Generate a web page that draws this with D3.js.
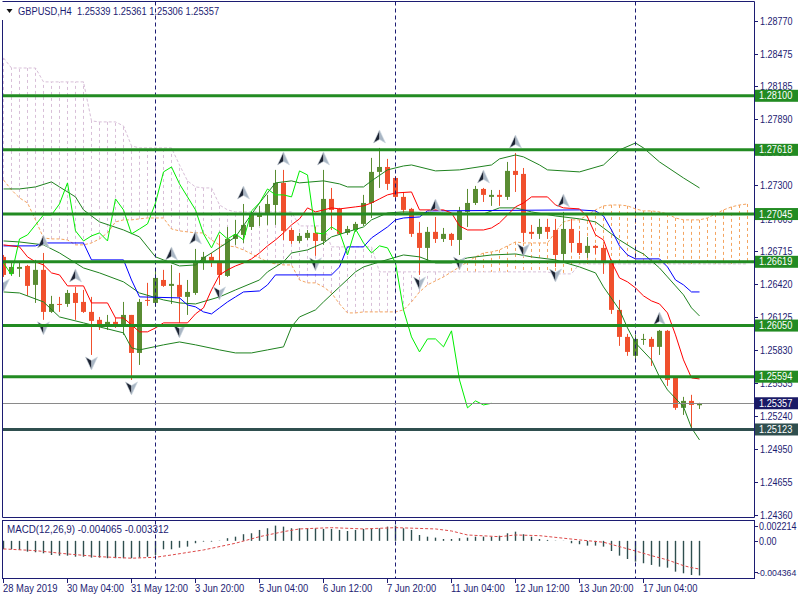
<!DOCTYPE html>
<html><head><meta charset="utf-8">
<script src="https://cdn.jsdelivr.net/npm/d3@7"></script>
<style>body{margin:0;background:#fff}svg{display:block}text{font-family:"Liberation Sans",Arial,sans-serif}</style>
</head><body><svg id="c" width="800" height="600"></svg>
<script>
const symbolInfo = "GBPUSD,H4  1.25339 1.25361 1.25306 1.25357";
const macdInfo = "MACD(12,26,9) -0.004065 -0.003312";
const timeLabels = ["28 May 2019","30 May 04:00","31 May 12:00","3 Jun 20:00","5 Jun 04:00","6 Jun 12:00","7 Jun 20:00","11 Jun 04:00","12 Jun 12:00","13 Jun 20:00","17 Jun 04:00"];
const timeLabelBars = [0,8,16,24,32,40,48,56,64,72,80];
const separatorBars = [19,49,79];
const priceTicks = [1.28770,1.28475,1.28185,1.27890,1.27595,1.27300,1.27005,1.26715,1.26420,1.26125,1.25830,1.25535,1.25240,1.24950,1.24655,1.24360];
const levels = [1.28100,1.27618,1.27045,1.26619,1.26050,1.25594];
const supportLevel = 1.25123;
const bidPrice = 1.25357;
const macdTicks = [0.002214,0.00,-0.004364];
const macdTickLabels = ["0.002214","0.00","-0.004364"];

const opens = [1.26663,1.26511,1.26556,1.26582,1.26413,1.26547,1.26172,1.26243,1.26243,1.26341,
1.26261,1.26172,1.26101,1.26038,1.26083,1.26038,1.26145,1.25806,1.26279,1.26252,
1.26457,1.26404,1.26413,1.26306,1.26341,1.26609,1.26663,1.26609,1.26493,1.26823,
1.26859,1.26930,1.27019,1.27037,1.27126,1.27323,1.26903,1.26805,1.26832,1.26877,
1.26805,1.27180,1.27091,1.26877,1.26903,1.26957,1.27144,1.27421,1.27465,1.27367,
1.27198,1.27091,1.26877,1.26743,1.26886,1.26823,1.26868,1.26814,1.27064,1.27144,
1.27269,1.27198,1.27216,1.27198,1.27430,1.27403,1.26886,1.26868,1.26930,1.26903,
1.26689,1.26912,1.26787,1.26698,1.26761,1.26743,1.26609,1.26190,1.25949,1.25780,
1.25922,1.25931,1.25860,1.26003,1.25583,1.25316,1.25378,1.25339];
const highs = [1.26680,1.26618,1.26609,1.26591,1.26636,1.26698,1.26315,1.26306,1.26368,1.26395,
1.26368,1.26306,1.26127,1.26145,1.26118,1.26261,1.26145,1.26288,1.26431,1.26547,
1.26547,1.26591,1.26520,1.26457,1.26734,1.26707,1.26698,1.26859,1.26930,1.26993,
1.27135,1.27064,1.27118,1.27216,1.27439,1.27439,1.26921,1.26877,1.26903,1.26930,
1.27439,1.27278,1.27100,1.26939,1.26975,1.27216,1.27546,1.27635,1.27537,1.27385,
1.27242,1.27100,1.26975,1.26930,1.27019,1.26921,1.26877,1.27109,1.27269,1.27296,
1.27278,1.27260,1.27260,1.27510,1.27590,1.27456,1.26948,1.27002,1.27002,1.27002,
1.27064,1.27002,1.26895,1.26841,1.26770,1.26770,1.26618,1.26279,1.25976,1.25967,
1.25976,1.25949,1.26011,1.26011,1.25583,1.25414,1.25432,1.25361];
const lows = [1.26484,1.26493,1.26484,1.26315,1.26252,1.26101,1.26163,1.26172,1.26217,1.26101,
1.26163,1.25788,1.26011,1.26011,1.26029,1.25967,1.25565,1.25699,1.26226,1.26217,
1.26395,1.26243,1.26074,1.26145,1.26324,1.26547,1.26573,1.26413,1.26484,1.26770,
1.26787,1.26903,1.26939,1.26948,1.26948,1.26814,1.26779,1.26787,1.26814,1.26672,
1.26770,1.26903,1.26859,1.26859,1.26886,1.26939,1.27010,1.27278,1.27260,1.27180,
1.27055,1.26841,1.26502,1.26627,1.26787,1.26796,1.26761,1.26680,1.26930,1.27126,
1.27153,1.27118,1.27118,1.27171,1.27242,1.26796,1.26823,1.26823,1.26823,1.26573,
1.26627,1.26707,1.26680,1.26654,1.26689,1.26511,1.26154,1.25869,1.25780,1.25744,
1.25878,1.25690,1.25788,1.25512,1.25298,1.25253,1.25120,1.25306];
const closes = [1.26502,1.26573,1.26573,1.26404,1.26547,1.26172,1.26243,1.26234,1.26341,1.26252,
1.26172,1.26092,1.26038,1.26083,1.26056,1.26145,1.25806,1.26261,1.26270,1.26475,
1.26404,1.26422,1.26306,1.26350,1.26609,1.26663,1.26609,1.26502,1.26823,1.26859,
1.26948,1.27037,1.27037,1.27135,1.27323,1.26895,1.26805,1.26850,1.26877,1.26805,
1.27180,1.27082,1.26868,1.26912,1.26957,1.27144,1.27421,1.27465,1.27314,1.27198,
1.27082,1.26868,1.26743,1.26886,1.26823,1.26868,1.26814,1.27073,1.27144,1.27269,
1.27216,1.27216,1.27198,1.27430,1.27394,1.26877,1.26868,1.26930,1.26886,1.26680,
1.26912,1.26787,1.26698,1.26761,1.26743,1.26609,1.26190,1.25949,1.25815,1.25931,
1.25931,1.25860,1.26003,1.25565,1.25316,1.25378,1.25342,1.25357];

// Ichimoku
const tenkanBars = [0,2,3,4,5,6,7,8,10,11,13,14,15,17,18,19,20,23,24,25,26,27,28,29,30,31,32,33,34,35,36,37,38,39,40,41,42,44,45,46,47,48,49,51,52,55,56,57,58,60,61,62,63,64,65,66,68,69,70,72,73,74,75,76,77,78,79,80,81,82,83,84,85,86,87];
const tenkan = [1.26770,1.26752,1.26663,1.26618,1.26591,1.26520,1.26502,1.26404,1.26404,1.26252,1.26252,1.26118,1.26118,1.25994,1.25994,1.26029,1.26074,1.26074,1.26154,1.26208,1.26368,1.26502,1.26547,1.26582,1.26609,1.26645,1.26698,1.26761,1.26814,1.26877,1.26948,1.27002,1.27100,1.27064,1.27082,1.27100,1.27091,1.27109,1.27118,1.27144,1.27180,1.27216,1.27233,1.27242,1.27082,1.27082,1.27055,1.26939,1.26903,1.26903,1.26921,1.26966,1.27037,1.27109,1.27144,1.27198,1.27198,1.27126,1.27100,1.27091,1.27019,1.26859,1.26814,1.26618,1.26475,1.26440,1.26386,1.26315,1.26270,1.26243,1.26163,1.25967,1.25744,1.25583,1.25574];
const kijunBars = [0,4,5,10,11,15,16,17,22,23,24,25,26,27,28,29,30,32,33,34,41,42,43,45,46,48,49,50,52,53,72,74,75,76,77,78,79,82,83,84,85,86,87];
const kijun = [1.26761,1.26761,1.26787,1.26787,1.26636,1.26636,1.26457,1.26306,1.26297,1.26234,1.26217,1.26172,1.26154,1.26208,1.26261,1.26306,1.26350,1.26359,1.26413,1.26502,1.26502,1.26573,1.26752,1.26752,1.26832,1.26930,1.26993,1.27010,1.27019,1.27073,1.27082,1.27073,1.27028,1.26903,1.26761,1.26680,1.26645,1.26645,1.26573,1.26457,1.26413,1.26350,1.26350];
const spanA = [1.27349,1.27260,1.27189,1.27144,1.26993,1.26832,1.26823,1.26823,1.26814,1.26770,
1.26770,1.26787,1.26823,1.26877,1.26975,1.26993,1.26993,1.27002,1.27010,1.27010,
1.27010,1.26912,1.26895,1.26886,1.26877,1.26877,1.26814,1.26770,1.26761,1.26752,
1.26725,1.26689,1.26654,1.26618,1.26600,1.26591,1.26591,1.26457,1.26431,1.26431,
1.26395,1.26341,1.26243,1.26163,1.26163,1.26172,1.26172,1.26172,1.26172,1.26172,
1.26190,1.26261,1.26350,1.26413,1.26449,1.26484,1.26529,1.26573,1.26618,1.26663,
1.26698,1.26707,1.26725,1.26761,1.26796,1.26787,1.26787,1.26787,1.26787,1.26886,
1.26975,1.26993,1.26993,1.27037,1.27082,1.27118,1.27126,1.27126,1.27118,1.27091,
1.27073,1.27073,1.27064,1.27046,1.27010,1.26993,1.26993,1.26993,1.27010,1.27046,
1.27082,1.27109,1.27126,1.27135];
const spanB = [1.28438,1.28348,1.28348,1.28348,1.28348,1.28224,1.28224,1.28224,1.28224,1.28224,
1.28224,1.27876,1.27867,1.27867,1.27867,1.27831,1.27653,1.27635,1.27635,1.27635,
1.27635,1.27635,1.27483,1.27341,1.27287,1.27278,1.27278,1.27126,1.27082,1.27064,
1.27064,1.27064,1.27064,1.27064,1.27064,1.27064,1.27064,1.26939,1.26939,1.26939,
1.26939,1.26752,1.26752,1.26752,1.26752,1.26752,1.26752,1.26529,1.26529,1.26529,
1.26529,1.26529,1.26529,1.26529,1.26529,1.26529,1.26529,1.26529,1.26529,1.26529,
1.26529,1.26529,1.26529,1.26529,1.26529,1.26529,1.26529,1.26529,1.26529,1.26511,
1.26511,1.26511,1.26600,1.26600,1.26600,1.26600,1.26600,1.26600,1.26600,1.26600,
1.26600,1.26600,1.26600,1.26600,1.26600,1.26600,1.26600,1.26600,1.26600,1.26600,
1.26600,1.26600,1.26600,1.26600];
const chikouShift = 26;

// Bollinger bands
const bbUpperBars = [0,2,4,6,7,9,10,12,15,17,19,20,22,24,25,26,29,32,34,36,37,40,42,43,45,46,48,50,51,54,57,61,62,64,65,67,68,72,75,77,79,80,82,85,87];
const bbUpper = [1.27269,1.27269,1.27287,1.27332,1.27287,1.27198,1.27082,1.26975,1.26903,1.26841,1.26663,1.26636,1.26582,1.26591,1.26654,1.26698,1.26841,1.27144,1.27323,1.27341,1.27323,1.27341,1.27314,1.27287,1.27287,1.27341,1.27439,1.27474,1.27483,1.27430,1.27439,1.27483,1.27537,1.27572,1.27555,1.27483,1.27439,1.27421,1.27483,1.27617,1.27679,1.27635,1.27510,1.27367,1.27278];
const bbMidBars = [0,2,5,7,10,12,15,17,20,22,24,27,29,32,33,35,36,38,40,41,43,45,46,48,50,55,60,62,64,66,69,72,74,75,77,79,80,81,82,83,84,85,86,87];
const bbMid = [1.26805,1.26796,1.26770,1.26698,1.26564,1.26520,1.26440,1.26341,1.26279,1.26252,1.26243,1.26306,1.26368,1.26457,1.26529,1.26618,1.26698,1.26725,1.26787,1.26841,1.26886,1.26930,1.26993,1.27055,1.27064,1.27055,1.27046,1.27100,1.27100,1.27064,1.27028,1.27002,1.26975,1.26921,1.26814,1.26725,1.26689,1.26627,1.26564,1.26484,1.26404,1.26324,1.26208,1.26136];
const bbLowerBars = [0,2,5,7,10,12,15,16,17,20,22,24,27,29,31,33,35,36,37,39,40,42,44,45,47,50,52,54,56,58,61,64,66,69,72,74,75,77,78,79,81,82,83,85,86,87];
const bbLower = [1.26350,1.26341,1.26261,1.26127,1.26074,1.26038,1.25985,1.25851,1.25833,1.25878,1.25904,1.25878,1.25833,1.25806,1.25806,1.25833,1.25860,1.26038,1.26127,1.26190,1.26261,1.26395,1.26529,1.26573,1.26618,1.26680,1.26663,1.26609,1.26609,1.26654,1.26680,1.26689,1.26663,1.26636,1.26573,1.26520,1.26395,1.26190,1.26029,1.25895,1.25744,1.25592,1.25476,1.25325,1.25137,1.25030];

// Fractals
const upFractalBars = [5,9,21,24,30,35,40,47,54,60,64,70,82];
const downFractalBars = [0,5,11,16,22,27,39,52,57,65,69];

// MACD
const macdMain = [-0.00099,-0.00099,-0.00107,-0.00127,-0.00134,-0.00146,-0.00166,-0.00174,-0.00174,-0.00186,
-0.00186,-0.00197,-0.00197,-0.00204,-0.00204,-0.00204,-0.00204,-0.00197,-0.00186,-0.00166,
-0.00099,-0.00099,-0.00080,-0.00068,-0.00028,-0.00009,-0.00009,0.00003,0.00031,0.00049,
0.00078,0.00089,0.00128,0.00148,0.00179,0.00167,0.00148,0.00148,0.00148,0.00148,
0.00140,0.00140,0.00128,0.00116,0.00128,0.00140,0.00148,0.00148,0.00167,0.00179,
0.00148,0.00128,0.00069,0.00049,0.00038,0.00022,0.00022,0.00031,0.00038,0.00049,
0.00049,0.00049,0.00061,0.00089,0.00108,0.00078,0.00049,0.00022,0.00011,0.00003,
0.00002,-0.00028,-0.00040,-0.00056,-0.00056,-0.00068,-0.00119,-0.00174,-0.00213,-0.00244,
-0.00263,-0.00283,-0.00303,-0.00315,-0.00362,-0.00381,-0.00401,-0.004065];
const signalBars = [0,4,8,12,16,19,21,25,29,32,35,37,41,45,49,54,56,58,62,64,67,70,72,75,77,79,81,83,85,86,87];
const signal = [-0.00095,-0.00115,-0.00154,-0.00186,-0.00204,-0.00193,-0.00166,-0.00107,-0.00028,0.00049,0.00108,0.00140,0.00155,0.00140,0.00155,0.00140,0.00116,0.00069,0.00049,0.00069,0.00061,0.00031,0.00011,-0.00016,-0.00068,-0.00119,-0.00174,-0.00224,-0.00291,-0.00315,-0.003312];

// ---------- drawing ----------
const navy = "#1c1c72", bull = "#5a8c32", bear = "#f0502d", green = "#228b22";
const sandy = "#f4a460", thistle = "#d8bfd8";
const svg = d3.select("#c");
const plotL = 2.5, plotR = 754.5, mainT = 1.5, mainB = 517.5, macdT = 520.5, macdB = 578.5;
const x = d3.scaleLinear().domain([0, 87]).range([3.5, 699.5]);
const y = d3.scaleLinear().domain([1.24360, 1.28770]).range([515, 20.7]);
const ym = d3.scaleLinear().domain([-0.004364, 0.002214]).range([578, 522]);

function squeeze(sel, f){
  sel.each(function(){
    const w = this.getComputedTextLength();
    d3.select(this).attr("textLength", (w*f).toFixed(1)).attr("lengthAdjust","spacingAndGlyphs");
  });
  return sel;
}

const defs = svg.append("defs");
defs.append("clipPath").attr("id","mainClip").append("rect").attr("x",3).attr("y",2).attr("width",751).attr("height",515);
defs.append("clipPath").attr("id","macdClip").append("rect").attr("x",3).attr("y",521).attr("width",751).attr("height",57);

const gm = svg.append("g").attr("clip-path","url(#mainClip)");
const gd = svg.append("g").attr("clip-path","url(#macdClip)");

// period separators
separatorBars.forEach(b => {
  [[mainT, mainB],[macdT, macdB]].forEach(([a,bb]) => {
    svg.append("line").attr("x1",x(b)).attr("x2",x(b)).attr("y1",a).attr("y2",bb)
      .attr("stroke",navy).attr("stroke-dasharray","4,3").attr("stroke-width",1);
  });
});

// cloud hatch
const cloudIdx = d3.range(spanA.length);
gm.append("g").selectAll("line").data(cloudIdx).join("line")
  .attr("x1",i=>x(i)).attr("x2",i=>x(i))
  .attr("y1",i=>y(spanA[i])).attr("y2",i=>y(spanB[i]))
  .attr("stroke",i=>spanA[i]>=spanB[i]?sandy:thistle)
  .attr("stroke-dasharray","3,3").attr("stroke-width",1);
const lineIdx = d3.line().x(d=>x(d[0])).y(d=>y(d[1]));
gm.append("path").attr("d",lineIdx(cloudIdx.map(i=>[i,spanA[i]]))).attr("fill","none").attr("stroke",sandy).attr("stroke-dasharray","3,2");
gm.append("path").attr("d",lineIdx(cloudIdx.map(i=>[i,spanB[i]]))).attr("fill","none").attr("stroke",thistle).attr("stroke-dasharray","3,2");

// candles
const bars = d3.range(opens.length).map(i=>({i,o:opens[i],h:highs[i],l:lows[i],c:closes[i]}));
gm.append("g").selectAll("line").data(bars).join("line")
  .attr("x1",d=>x(d.i)).attr("x2",d=>x(d.i)).attr("y1",d=>y(d.h)).attr("y2",d=>y(d.l))
  .attr("stroke",d=>d.c>=d.o?bull:bear).attr("stroke-width",1);
gm.append("g").selectAll("rect").data(bars).join("rect")
  .attr("x",d=>x(d.i)-2.5).attr("width",5)
  .attr("y",d=>Math.min(y(d.o),y(d.c)))
  .attr("height",d=>Math.max(1,Math.abs(y(d.o)-y(d.c))))
  .attr("fill",d=>d.c>=d.o?bull:bear);

// indicator lines
function drawSparse(idx, vals, color, w){
  gm.append("path").attr("d",lineIdx(d3.zip(idx, vals))).attr("fill","none").attr("stroke",color).attr("stroke-width",w||1);
}
drawSparse(bbUpperBars, bbUpper, "#1f821f");
drawSparse(bbMidBars, bbMid, "#1f821f");
drawSparse(bbLowerBars, bbLower, "#1f821f");
drawSparse(kijunBars, kijun, "#0000ff");
drawSparse(tenkanBars, tenkan, "#ff0000");
const chikouPts = d3.range(closes.length - chikouShift).map(i=>[i, closes[i+chikouShift]]);
gm.append("path").attr("d",lineIdx(chikouPts)).attr("fill","none").attr("stroke","#00ee00").attr("stroke-width",1);

// fractals
function arrow(cx, cy, up){
  const s = up ? 1 : -1;
  const g = gm.append("g").attr("transform",`translate(${cx},${cy}) scale(1,${s})`);
  g.append("path").attr("d","M0,-7 L-6,6 L0,2.5 Z").attr("fill","#1d2433");
  g.append("path").attr("d","M0,-7 L6,6 L0,2.5 Z").attr("fill","#a9b6c4");
  g.append("path").attr("d","M0,-7 L-6,6 L0,2.5 L6,6 Z").attr("fill","none").attr("stroke","#cfd8e0").attr("stroke-width",0.6);
}
upFractalBars.forEach(b=>arrow(x(b), y(highs[b])-11, true));
downFractalBars.forEach(b=>arrow(x(b), y(lows[b])+8, false));

// horizontal levels
levels.forEach(l=>{
  svg.append("line").attr("x1",3).attr("x2",754).attr("y1",y(l)).attr("y2",y(l)).attr("stroke",green).attr("stroke-width",3);
});
svg.append("line").attr("x1",3).attr("x2",754).attr("y1",y(supportLevel)).attr("y2",y(supportLevel)).attr("stroke","#2f4f4f").attr("stroke-width",3);
svg.append("line").attr("x1",3).attr("x2",754).attr("y1",Math.round(y(bidPrice))+0.5).attr("y2",Math.round(y(bidPrice))+0.5).attr("stroke","#8a8a8a").attr("stroke-width",1);

// MACD
gd.append("g").selectAll("line").data(macdMain.map((v,i)=>[i,v])).join("line")
  .attr("x1",d=>x(d[0])).attr("x2",d=>x(d[0])).attr("y1",ym(0)).attr("y2",d=>ym(d[1]))
  .attr("stroke","#2f4f4f").attr("stroke-width",1.4);
gd.append("path").attr("d",d3.line().x(d=>x(d[0])).y(d=>ym(d[1]))(d3.zip(signalBars,signal)))
  .attr("fill","none").attr("stroke","#dd4a4a").attr("stroke-width",1).attr("stroke-dasharray","3,2");

// frames
svg.append("line").attr("x1",plotL).attr("x2",plotL).attr("y1",20).attr("y2",mainB).attr("stroke",navy);
svg.append("line").attr("x1",plotL).attr("x2",plotR).attr("y1",mainT).attr("y2",mainT).attr("stroke",navy);
svg.append("line").attr("x1",plotR).attr("x2",plotR).attr("y1",mainT).attr("y2",mainB).attr("stroke",navy);
svg.append("line").attr("x1",plotL).attr("x2",plotR).attr("y1",mainB).attr("y2",mainB).attr("stroke",navy);
svg.append("rect").attr("x",plotL).attr("y",macdT).attr("width",plotR-plotL).attr("height",macdB-macdT).attr("fill","none").attr("stroke",navy);

// header texts
svg.append("path").attr("d","M6.5,9 L12.5,9 L9.5,13 Z").attr("fill","#111");
squeeze(svg.append("text").attr("x",18).attr("y",15).attr("font-size",10).attr("fill",navy).attr("xml:space","preserve").text(symbolInfo), 0.93);
squeeze(svg.append("text").attr("x",7).attr("y",533).attr("font-size",10).attr("fill",navy).text(macdInfo), 0.98);

// price axis
priceTicks.forEach(p=>{
  const yy = Math.round(y(p))+0.5;
  svg.append("line").attr("x1",754).attr("x2",758).attr("y1",yy).attr("y2",yy).attr("stroke",navy);
  squeeze(svg.append("text").attr("x",760).attr("y",yy+3.5).attr("font-size",10).attr("fill",navy).text(p.toFixed(5)), 0.9);
});
function box(p, fill){
  const yy = y(p);
  svg.append("rect").attr("x",755).attr("y",yy-6).attr("width",43).attr("height",12).attr("fill",fill);
  squeeze(svg.append("text").attr("x",759).attr("y",yy+3.5).attr("font-size",10).attr("fill","#fff").text(p.toFixed(5)), 0.92);
}
levels.forEach(l=>box(l, green));
box(supportLevel, "#2f4f4f");
box(bidPrice, "#1a1a66");

// MACD axis
macdTicks.forEach((v,i)=>{
  const yy = [526.5,541.5,572.5][i];
  svg.append("line").attr("x1",754).attr("x2",758).attr("y1",yy).attr("y2",yy).attr("stroke",navy);
  squeeze(svg.append("text").attr("x",i===2?757:759).attr("y",yy+3.5).attr("font-size",i===2?9.2:10).attr("fill",navy).text(macdTickLabels[i]), i===2?0.95:0.9);
});

// time axis
timeLabelBars.forEach((b,i)=>{
  svg.append("line").attr("x1",x(b)).attr("x2",x(b)).attr("y1",579).attr("y2",583).attr("stroke",navy);
  squeeze(svg.append("text").attr("x",x(b)-0.5).attr("y",592).attr("font-size",10).attr("fill",navy).text(timeLabels[i]), 0.94);
});
</script></body></html>
